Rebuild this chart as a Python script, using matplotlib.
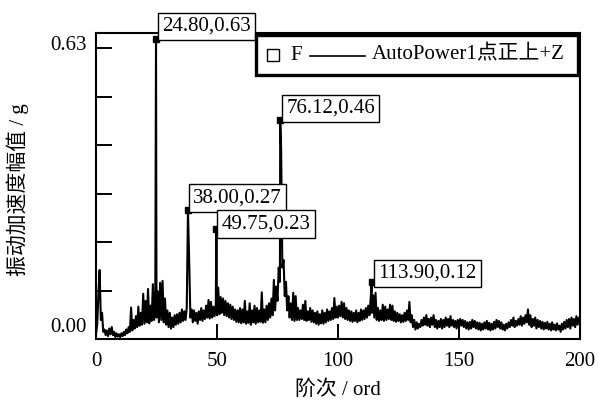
import numpy as np
import matplotlib
matplotlib.use("Agg")
import matplotlib.pyplot as plt
from matplotlib.patches import Rectangle
from matplotlib.lines import Line2D

plt.rcParams['font.family'] = ['Liberation Serif', 'Noto Sans CJK SC']

# ---------------- data ----------------
order_step = 0.5
base_orders = np.arange(0, 200 + order_step / 2, order_step)
base_amp = [
    # 0-10
    0.010, 0.030, 0.095, 0.145, 0.040, 0.055, 0.015, 0.020, 0.008, 0.018,
    0.006, 0.022, 0.010, 0.025, 0.008, 0.015, 0.004, 0.012, 0.005, 0.010,
    # 10-20
    0.004, 0.012, 0.006, 0.015, 0.008, 0.020, 0.012, 0.025, 0.015, 0.066,
    0.018, 0.040, 0.022, 0.048, 0.025, 0.068, 0.028, 0.055, 0.030, 0.095,
    # 20-30
    0.032, 0.080, 0.035, 0.105, 0.033, 0.070, 0.038, 0.115, 0.040, 0.090,
    0.045, 0.100, 0.035, 0.118, 0.040, 0.122, 0.035, 0.085, 0.030, 0.060,
    # 30-40
    0.025, 0.055, 0.022, 0.045, 0.025, 0.050, 0.030, 0.052, 0.032, 0.055,
    0.035, 0.062, 0.038, 0.058, 0.040, 0.065, 0.045, 0.166, 0.045, 0.062,
    # 40-50
    0.035, 0.060, 0.038, 0.055, 0.032, 0.058, 0.040, 0.065, 0.038, 0.060,
    0.042, 0.070, 0.045, 0.082, 0.043, 0.078, 0.045, 0.068, 0.048, 0.072,
    # 50-60
    0.050, 0.108, 0.052, 0.088, 0.055, 0.085, 0.050, 0.080, 0.048, 0.075,
    0.045, 0.072, 0.042, 0.068, 0.040, 0.062, 0.036, 0.060, 0.035, 0.065,
    # 60-70
    0.033, 0.062, 0.035, 0.080, 0.032, 0.058, 0.034, 0.075, 0.030, 0.060,
    0.035, 0.070, 0.032, 0.065, 0.035, 0.060, 0.036, 0.098, 0.034, 0.062,
    # 70-80
    0.035, 0.070, 0.040, 0.075, 0.045, 0.085, 0.050, 0.124, 0.060, 0.110,
    0.080, 0.150, 0.120, 0.400, 0.150, 0.166, 0.090, 0.120, 0.060, 0.090,
    # 80-90
    0.045, 0.075, 0.040, 0.097, 0.038, 0.090, 0.040, 0.065, 0.040, 0.060,
    0.042, 0.072, 0.040, 0.080, 0.038, 0.058, 0.040, 0.065, 0.036, 0.060,
    # 90-100
    0.035, 0.055, 0.032, 0.058, 0.030, 0.052, 0.033, 0.060, 0.032, 0.055,
    0.035, 0.062, 0.038, 0.058, 0.040, 0.065, 0.042, 0.086, 0.045, 0.068,
    # 100-110
    0.045, 0.070, 0.048, 0.078, 0.045, 0.075, 0.042, 0.065, 0.040, 0.060,
    0.038, 0.058, 0.036, 0.055, 0.038, 0.060, 0.035, 0.055, 0.038, 0.062,
    # 110-120
    0.040, 0.060, 0.042, 0.065, 0.045, 0.070, 0.050, 0.085, 0.055, 0.092,
    0.045, 0.097, 0.040, 0.065, 0.038, 0.060, 0.040, 0.072, 0.038, 0.068,
    # 120-130
    0.040, 0.062, 0.042, 0.072, 0.040, 0.070, 0.038, 0.058, 0.036, 0.055,
    0.038, 0.052, 0.035, 0.050, 0.036, 0.055, 0.038, 0.060, 0.040, 0.078,
    # 130-140
    0.035, 0.050, 0.025, 0.040, 0.020, 0.035, 0.022, 0.032, 0.025, 0.040,
    0.028, 0.045, 0.030, 0.050, 0.028, 0.042, 0.025, 0.045, 0.030, 0.050,
    # 140-150
    0.025, 0.040, 0.022, 0.038, 0.025, 0.042, 0.022, 0.040, 0.025, 0.045,
    0.028, 0.042, 0.025, 0.048, 0.028, 0.040, 0.025, 0.038, 0.022, 0.040,
    # 150-160
    0.025, 0.042, 0.028, 0.040, 0.025, 0.038, 0.022, 0.035, 0.020, 0.036,
    0.022, 0.040, 0.025, 0.038, 0.022, 0.035, 0.020, 0.034, 0.018, 0.032,
    # 160-170
    0.020, 0.035, 0.022, 0.038, 0.020, 0.034, 0.018, 0.032, 0.020, 0.036,
    0.022, 0.040, 0.025, 0.038, 0.022, 0.035, 0.020, 0.030, 0.018, 0.032,
    # 170-180
    0.022, 0.035, 0.025, 0.040, 0.028, 0.045, 0.025, 0.038, 0.028, 0.042,
    0.030, 0.048, 0.028, 0.045, 0.032, 0.050, 0.035, 0.062, 0.030, 0.050,
    # 180-190
    0.025, 0.042, 0.028, 0.045, 0.022, 0.040, 0.025, 0.038, 0.022, 0.036,
    0.020, 0.034, 0.022, 0.036, 0.020, 0.032, 0.018, 0.035, 0.020, 0.030,
    # 190-200
    0.018, 0.033, 0.020, 0.028, 0.015, 0.032, 0.020, 0.036, 0.022, 0.040,
    0.025, 0.042, 0.022, 0.045, 0.028, 0.042, 0.025, 0.048, 0.030, 0.045,
    0.035,
]

peak_orders = [24.80, 38.00, 49.75, 76.12, 113.90]
peak_amps = [0.63, 0.27, 0.23, 0.46, 0.12]

x_ticks = [0, 50, 100, 150, 200]
x_tick_labels = ["0", "50", "100", "150", "200"]
y_label_texts = ["0.63", "0.00"]

legend_marker_label = "F"
legend_line_label = "AutoPower1点正上+Z"
x_label = "阶次 / ord"
y_label = "振动加速度幅值 / g"

# ---------------- merge series ----------------
base_amp = np.array(base_amp)
keep = ~np.isin(np.round(base_orders, 3), np.round(peak_orders, 3))
all_x = np.concatenate([base_orders[keep], peak_orders])
all_y = np.concatenate([base_amp[keep], peak_amps])
order = np.argsort(all_x)
all_x, all_y = all_x[order], all_y[order]

# ---------------- figure ----------------
W, H = 598, 401
fig = plt.figure(figsize=(W / 100, H / 100), dpi=100)

def fx(px):
    return px / W

def fy(py):
    return 1 - py / H

ax = fig.add_axes([fx(96), fy(339), fx(580) - fx(96), (339 - 33) / H])
ax.plot(all_x, all_y, color='black', lw=1.5)
ax.plot(peak_orders, peak_amps, 's', color='black', ms=4, zorder=4)

ax.set_xlim(0, 200)
ax.set_ylim(0, 0.6426)
ax.set_xticks(x_ticks)
ax.set_xticklabels(x_tick_labels)
ax.set_yticks([0.101, 0.203, 0.305, 0.407, 0.509, 0.611])
ax.set_yticklabels([])
ax.tick_params(axis='x', direction='in', length=11, width=1.4, labelsize=15, pad=9)
ax.tick_params(axis='y', direction='in', length=11.5, width=1.4)
for s in ax.spines.values():
    s.set_linewidth(1.5)

# y tick labels (only extremes labelled)
fig.text(fx(87), fy(46), y_label_texts[0], ha='right', va='center', fontsize=15)
fig.text(fx(87), fy(327), y_label_texts[1], ha='right', va='center', fontsize=15)

# axis labels
fig.text(fx(338), fy(390), x_label, ha='center', va='center', fontsize=15)
fig.text(fx(18), fy(190), y_label, ha='center', va='center', rotation=90, fontsize=15)

# annotations
offsets_px = [(6, 3), (5, 3), (5, -4), (6, 2), (7, -1)]
for px_, py_, (dx, dy) in zip(peak_orders, peak_amps, offsets_px):
    ax.annotate(f"{px_:.2f},{py_:.2f}", (px_, py_), xytext=(dx * 0.72, dy * 0.72),
                textcoords='offset points', ha='left', va='bottom', fontsize=15,
                bbox=dict(boxstyle='square,pad=0.2', fc='white', ec='black', lw=1.0),
                annotation_clip=False, zorder=6)

# legend box
fig.add_artist(Rectangle((fx(256), fy(75)), fx(578) - fx(256), (75 - 35) / H,
                         transform=fig.transFigure, fc='white', ec='black', lw=2.4, zorder=7))
fig.add_artist(Line2D([fx(273)], [fy(55)], marker='s', mfc='none', mec='black', ms=9,
                      mew=1.0, transform=fig.transFigure, zorder=8))
fig.text(fx(290), fy(55), legend_marker_label, ha='left', va='center', fontsize=15, zorder=8)
fig.add_artist(Line2D([fx(310), fx(365)], [fy(56), fy(56)], color='black', lw=1.2,
                      transform=fig.transFigure, zorder=8))
fig.text(fx(372), fy(55), legend_line_label, ha='left', va='center', fontsize=15, zorder=8)

fig.savefig("out.png", dpi=100)
